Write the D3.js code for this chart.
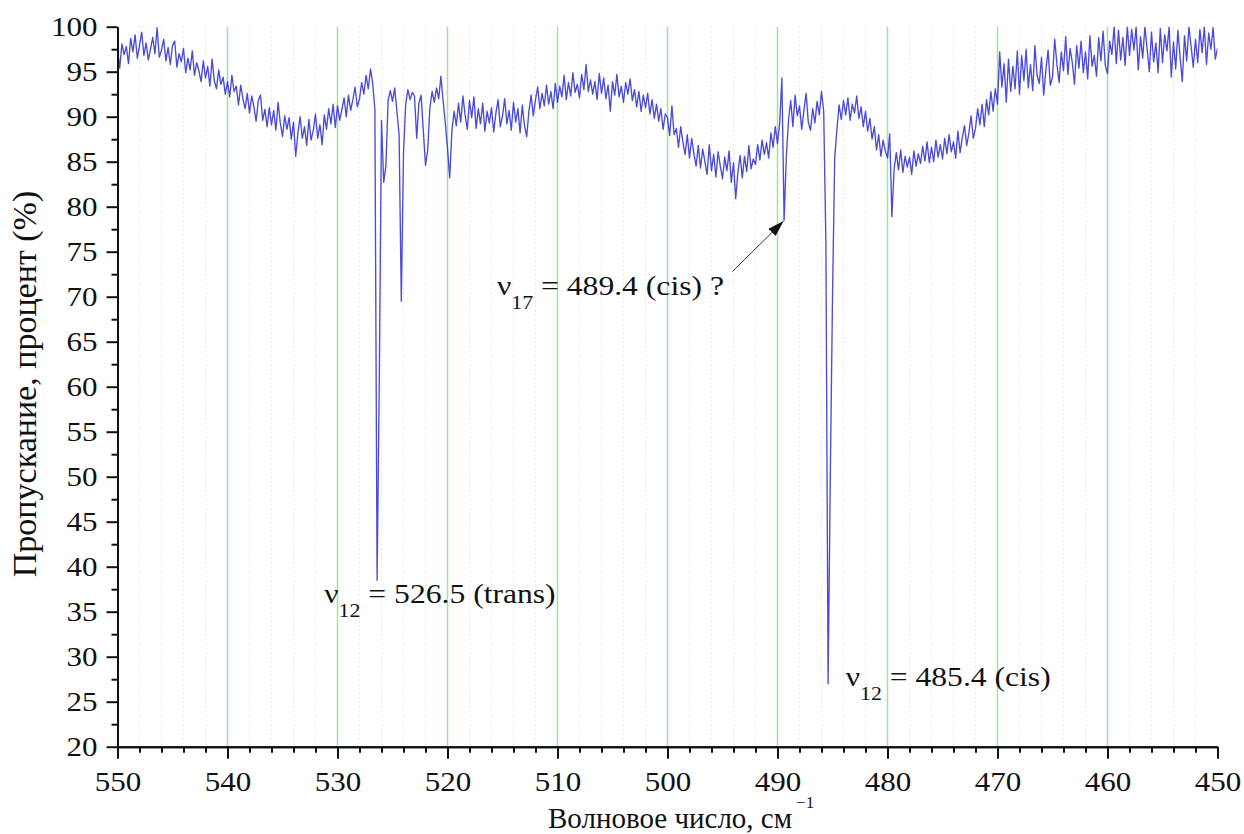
<!DOCTYPE html>
<html>
<head>
<meta charset="utf-8">
<script src="https://cdn.jsdelivr.net/npm/d3@7/dist/d3.min.js"></script>
<style>
  body { margin: 0; background: #fff; }
  text { font-family: "Liberation Serif", "Times New Roman", serif; fill: #111; }
  .axis path, .axis line { stroke: #111; stroke-width: 2; }
  .axis text { font-size: 27px; font-family: "Liberation Serif", "Times New Roman", serif; }
</style>
</head>
<body>
<svg id="chart"></svg>
<script>
// wavenumber grid of the spectrum (cm^-1), from 550 down to 450
const waveStart = 550;
const waveStep = -0.2;

// transmission, % (one row per 10 cm^-1, groups of 1 cm^-1)
const transmission = [
  97.6, 95.4, 98.1, 96.9, 97.8,  95.9, 98.7, 97.2, 99.1, 96.5,  97.9, 99.4, 96.8, 98.2, 96.3,  97.5, 98.8, 97.0, 99.9, 96.6,  97.4, 98.6, 96.2, 97.7, 95.8,
  97.9, 98.4, 95.5, 97.0, 96.1,  97.6, 94.9, 96.5, 95.2, 97.3,  94.6, 96.0, 95.1, 93.9, 96.2,  94.3, 95.6, 93.4, 96.4, 94.0,  93.1, 95.2, 93.6, 94.4, 92.5,
  93.9, 92.2, 94.6, 92.8, 93.4,  91.3, 93.5, 92.0, 90.9, 92.6,  90.4, 92.3, 91.1, 89.5, 91.8,  92.4, 89.6, 90.8, 88.9, 91.0,  89.1, 90.7, 88.5, 91.6, 89.3,
  87.8, 90.1, 88.6, 89.9, 87.5,  89.4, 85.6, 88.2, 90.0, 87.6,  88.9, 86.8, 89.7, 87.4, 88.5,  90.3, 87.6, 89.1, 86.9, 90.2,  88.6, 90.9, 89.2, 91.4, 88.8,
  91.2, 89.6, 90.8, 92.1, 90.0,  92.4, 90.7, 91.9, 93.3, 91.1,  92.0, 93.8, 92.5, 94.6, 93.1,  95.3, 93.7, 90.8, 38.5, 61.0,  89.6, 82.7, 84.5, 91.8, 92.9,
  91.7, 93.2, 90.6, 88.0, 69.5,  86.0, 91.4, 93.0, 91.9, 92.7,  92.3, 87.6, 91.5, 92.4, 88.5,  84.6, 86.3, 91.0, 92.8, 91.6,  93.2, 92.0, 94.5, 91.8, 89.3,
  86.5, 83.2, 88.4, 90.6, 89.0,  91.5, 89.4, 92.3, 90.2, 88.6,  91.8, 89.9, 92.2, 88.7, 90.9,  89.2, 91.5, 88.4, 90.6, 89.3,  91.0, 88.3, 90.4, 91.9, 88.9,
  90.1, 92.0, 89.2, 90.7, 88.5,  91.6, 89.4, 90.9, 88.2, 91.3,  89.0, 87.8, 90.6, 92.4, 90.1,  91.9, 93.3, 90.9, 92.6, 91.2,  93.5, 91.4, 92.8, 90.9, 93.7,
  91.6, 93.4, 92.2, 94.6, 91.9,  93.8, 92.3, 94.9, 92.7, 93.6,  92.1, 94.7, 93.0, 95.8, 92.8,  94.1, 92.5, 93.9, 91.9, 94.8,  92.6, 94.3, 92.0, 93.5, 90.6,
  93.9, 92.4, 94.7, 92.2, 93.4,  91.6, 93.8, 92.5, 94.2, 91.8,  93.0, 91.1, 92.8, 90.6, 92.4,  91.0, 92.6, 90.3, 91.9, 89.8,  91.4, 89.5, 90.9, 88.6, 90.3,
  89.9, 87.9, 91.2, 88.0, 88.7,  86.6, 88.9, 87.2, 85.8, 88.0,  85.4, 87.6, 85.9, 84.5, 86.8,  84.3, 86.4, 85.0, 83.6, 86.9,  84.0, 85.8, 83.3, 86.1, 84.5,
  83.1, 85.5, 84.0, 86.2, 82.7,  84.9, 80.9, 83.8, 85.7, 83.2,  85.6, 83.9, 86.8, 84.2, 85.3,  84.7, 86.9, 85.2, 87.4, 85.8,  87.1, 85.4, 88.2, 86.6, 88.9,
  87.0, 89.3, 94.3, 78.5, 85.5,  89.6, 91.8, 88.9, 92.4, 90.1,  91.2, 88.6, 90.7, 92.6, 89.4,  88.5, 90.9, 89.3, 91.7, 90.2,  92.8, 90.6, 76.0, 27.0, 50.0,
  70.0, 85.4, 88.6, 91.3, 89.7,  91.8, 90.2, 92.1, 89.6, 91.4,  90.4, 92.3, 89.8, 91.1, 88.9,  90.6, 88.4, 89.8, 87.5, 88.9,  86.3, 88.0, 85.6, 87.4, 86.2,
  85.4, 88.1, 78.9, 84.2, 86.0,  84.1, 86.3, 83.8, 85.6, 84.4,  85.5, 83.6, 86.2, 84.5, 85.9,  84.8, 86.7, 85.1, 87.2, 84.9,  86.6, 85.0, 87.4, 85.5, 86.9,
  85.3, 87.6, 85.9, 88.0, 86.1,  87.2, 85.4, 88.4, 86.0, 87.7,  89.0, 86.8, 88.2, 90.1, 87.6,  88.7, 90.9, 89.1, 91.4, 88.9,  91.9, 90.2, 92.8, 90.6, 93.1,
  91.4, 97.2, 93.3, 95.9, 91.6,  96.4, 92.8, 95.6, 93.1, 97.3,  92.5, 96.8, 94.0, 97.5, 93.2,  95.8, 92.9, 97.9, 94.6, 93.7,  96.6, 92.4, 95.2, 97.4, 93.5,
  94.4, 98.6, 95.9, 93.8, 97.2,  95.1, 98.9, 94.7, 97.6, 96.0,  93.6, 97.9, 95.4, 98.4, 94.9,  97.2, 94.2, 99.0, 95.6, 96.8,  94.5, 98.8, 96.2, 99.5, 95.7,
  94.8, 98.4, 96.9, 100.0, 95.9, 99.6, 96.3, 98.8, 95.7, 100.0, 96.8, 99.7, 97.4, 100.0, 95.2, 98.9, 96.5, 100.0, 97.6, 95.0, 99.4, 96.1, 98.2, 94.9, 99.8,
  96.0, 99.1, 97.3, 100.0, 94.4, 98.3, 95.3, 99.6, 96.6, 93.9,  99.0, 96.2, 100.0, 97.8, 95.5, 98.6, 96.0, 99.7, 97.1, 100.0, 95.8, 99.3, 97.5, 99.9, 96.4,
  97.6
];

const xMajorTicks = [550, 540, 530, 520, 510, 500, 490, 480, 470, 460, 450];
const yMajorTicks = [20, 25, 30, 35, 40, 45, 50, 55, 60, 65, 70, 75, 80, 85, 90, 95, 100];

// peak labels: anchor (wavenumber, %) of the left end of the text baseline
const labelNames = ['ν', 'ν', 'ν'];
const labelSubs = ['12', '17', '12'];
const labelTexts = [' = 526.5 (trans)', ' = 489.4 (cis) ?', ' = 485.4 (cis)'];
const labelWave = [531.2, 515.5, 483.8];
const labelValue = [36.0, 70.2, 26.7];

// arrow for the 489.4 band: from / to (wavenumber, %)
const arrowFrom = [494.1, 72.8];
const arrowTo = [489.45, 78.4];

const xTitle = 'Волновое число, см';
const xTitleSup = '−1';
const yTitle = 'Пропускание, процент (%)';

const W = 1244, H = 834;
const margin = { top: 26.7, right: 26.5, bottom: 87.3, left: 117.5 };
const width = W - margin.left - margin.right;
const height = H - margin.top - margin.bottom;
const stretch = 1.15; // glyphs in the picture are a bit wide

const series = transmission.map((t, i) => ({ wave: waveStart + i * waveStep, t }));

const svg = d3.select('#chart').attr('width', W).attr('height', H);
const g = svg.append('g').attr('transform', `translate(${margin.left},${margin.top})`);

const x = d3.scaleLinear().domain([550, 450]).range([0, width]);
const y = d3.scaleLinear().domain([20, 100]).range([height, 0]);

function widen(sel, k = stretch) {
  sel.each(function () {
    const t = d3.select(this);
    const tx = +t.attr('x') || 0, ty = +t.attr('y') || 0;
    t.attr('x', 0).attr('y', 0).attr('transform', `translate(${tx},${ty}) scale(${k},1)`);
  });
}

// grid
const minorWaves = d3.range(548, 450, -2).filter(d => d % 10 !== 0);
g.append('g').selectAll('line').data(minorWaves).join('line')
    .attr('x1', d => x(d)).attr('x2', d => x(d))
    .attr('y1', 0).attr('y2', height)
    .attr('stroke', '#cdeccd').attr('stroke-width', 1).attr('stroke-dasharray', '1.5,3');
g.append('g').selectAll('line').data(xMajorTicks.slice(1, -1)).join('line')
    .attr('x1', d => x(d)).attr('x2', d => x(d))
    .attr('y1', 0).attr('y2', height)
    .attr('stroke', '#98e898').attr('stroke-width', 1.5);

// spectrum
svg.append('defs').append('clipPath').attr('id', 'plot-clip')
  .append('rect').attr('width', width).attr('height', height + 1);

const line = d3.line()
    .x(d => x(d.wave))
    .y(d => y(d.t));

g.append('path')
    .datum(series)
    .attr('clip-path', 'url(#plot-clip)')
    .attr('fill', 'none')
    .attr('stroke', '#3636d8')
    .attr('stroke-opacity', 0.9)
    .attr('stroke-width', 1.35)
    .attr('stroke-linejoin', 'round')
    .attr('d', line);

// axes
const xMinor = d3.axisBottom(x).tickValues(d3.range(548, 450, -2)).tickSize(6).tickFormat('').tickSizeOuter(0);
g.append('g').attr('class', 'axis').attr('transform', `translate(0,${height})`).call(xMinor);
const xAxis = d3.axisBottom(x).tickValues(xMajorTicks).tickSize(12).tickPadding(13).tickSizeOuter(0);
const xg = g.append('g').attr('class', 'axis').attr('transform', `translate(0,${height})`).call(xAxis);
widen(xg.selectAll('text'));

const yMinor = d3.axisLeft(y).tickValues(d3.range(22.5, 100, 5)).tickSize(6).tickFormat('').tickSizeOuter(0);
g.append('g').attr('class', 'axis').call(yMinor);
const yAxis = d3.axisLeft(y).tickValues(yMajorTicks).tickSize(11).tickPadding(9).tickSizeOuter(0);
const yg = g.append('g').attr('class', 'axis').call(yAxis);
widen(yg.selectAll('text'));

// axis titles
const xt = svg.append('text')
    .attr('x', 548).attr('y', 828)
    .attr('font-size', 29);
xt.append('tspan').text(xTitle);
xt.append('tspan').attr('font-size', 17).attr('dy', -20).attr('dx', 4).text(xTitleSup);

svg.append('text')
    .attr('transform', 'translate(36,384) rotate(-90)')
    .attr('text-anchor', 'middle')
    .attr('font-size', 34)
    .text(yTitle);

// arrow
const defs = svg.select('defs');
defs.append('marker')
    .attr('id', 'arrowhead')
    .attr('markerUnits', 'userSpaceOnUse')
    .attr('markerWidth', 16).attr('markerHeight', 10)
    .attr('refX', 16).attr('refY', 5)
    .attr('orient', 'auto')
  .append('path').attr('d', 'M0,0 L16,5 L0,10 Z').attr('fill', '#111');

g.append('line')
    .attr('x1', x(arrowFrom[0])).attr('y1', y(arrowFrom[1]))
    .attr('x2', x(arrowTo[0])).attr('y2', y(arrowTo[1]))
    .attr('stroke', '#333').attr('stroke-width', 1)
    .attr('marker-end', 'url(#arrowhead)');

// peak labels
labelTexts.forEach((txt, i) => {
  const t = g.append('text')
      .attr('x', x(labelWave[i])).attr('y', y(labelValue[i]))
      .attr('font-size', 27.5);
  t.append('tspan').text(labelNames[i]);
  t.append('tspan').attr('font-size', 19).attr('dy', 14).text(labelSubs[i]);
  t.append('tspan').attr('dy', -14).text(txt);
  widen(t);
});
</script>
</body>
</html>
